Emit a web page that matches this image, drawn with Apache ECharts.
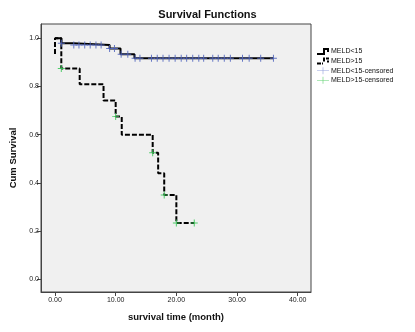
<!DOCTYPE html>
<html>
<head>
<meta charset="utf-8">
<script src="https://cdn.jsdelivr.net/npm/echarts@6/dist/echarts.min.js"></script>
<style>html,body{margin:0;padding:0;background:#fff;}#c{width:415px;height:332px;}</style>
</head>
<body>
<div id="c"></div>
<script>
// MELD<15 (solid) step curve: event times and survival after each time
const lowTimes = [0, 1.04, 3.0, 9.0, 10.8, 13.1, 36.0];
const lowSurv  = [1.0, 0.979, 0.972, 0.958, 0.934, 0.917, 0.917];
// MELD>15 (dashed) step curve
const highTimes = [0, 0, 1.04, 4.07, 8.0, 10.0, 11.0, 16.1, 17.0, 18.0, 20.0, 22.95];
const highSurv  = [0.935, 1.0, 0.875, 0.809, 0.742, 0.675, 0.600, 0.525, 0.440, 0.350, 0.234, 0.234];
// censored marks
const lowCensT = [1.04, 3.1, 3.95, 4.9, 5.8, 6.75, 7.6, 9.0, 9.8, 10.9, 12.0, 13.2, 14.0, 15.9, 16.85, 17.8, 18.8, 19.8, 20.8, 21.7, 22.7, 23.7, 24.5, 26.0, 26.9, 27.9, 28.9, 30.9, 32.0, 33.9, 36.0];
const lowCensS = [0.979, 0.972, 0.972, 0.972, 0.972, 0.972, 0.972, 0.958, 0.958, 0.934, 0.934, 0.917, 0.917, 0.917, 0.917, 0.917, 0.917, 0.917, 0.917, 0.917, 0.917, 0.917, 0.917, 0.917, 0.917, 0.917, 0.917, 0.917, 0.917, 0.917, 0.917];
const highCensT = [1.04, 10.0, 16.1, 18.0, 20.0, 22.95];
const highCensS = [0.875, 0.675, 0.525, 0.350, 0.234, 0.234];
// tick labels
const xTicks = [0, 10, 20, 30, 40];
const yTicks = [0, 0.2, 0.4, 0.6, 0.8, 1.0];
const seriesNames = ['MELD<15', 'MELD>15', 'MELD<15-censored', 'MELD>15-censored'];

function stepPoints(t, s) {
  const pts = [[t[0], s[0]]];
  for (let i = 1; i < t.length; i++) {
    pts.push([t[i], s[i - 1]]);
    pts.push([t[i], s[i]]);
  }
  return pts;
}
function zip(a, b) { return a.map((v, i) => [v, b[i]]); }

const plus = 'path://M4.3,0H5.7V10H4.3Z M0,4.3H10V5.7H0Z';
const blue = '#5468c0';
const green = '#3cc85a';

const chart = echarts.init(document.getElementById('c'), null, {renderer: 'canvas'});
chart.setOption({
  animation: false,
  backgroundColor: '#ffffff',
  textStyle: {fontFamily: 'Liberation Sans, Arial, sans-serif'},
  title: {
    text: 'Survival Functions', left: 'center', top: 4,
    textStyle: {fontSize: 11, fontWeight: 'bold', color: '#111', fontFamily: 'Liberation Sans, Arial, sans-serif'}
  },
  legend: {
    orient: 'vertical', left: 312, top: 43, itemWidth: 12, itemHeight: 7, itemGap: 2.6,
    textStyle: {fontSize: 7, color: '#111', padding: [0, 0, 0, -3]},
    data: [
      {name: seriesNames[0], icon: 'path://M0,5H6V0H12V4H10V2H8V7H0Z'},
      {name: seriesNames[1], icon: 'path://M0,5H4V7H0Z M5,5H6V7H5Z M6,0H8V4H6Z M9,0H12V2H9Z M10,3H12V5H10Z'},
      {name: seriesNames[2], icon: 'path://M0,3.2H12V3.8H0Z M5.7,0H6.3V7H5.7Z', itemStyle: {color: '#8796d8'}},
      {name: seriesNames[3], icon: 'path://M0,3.2H12V3.8H0Z M5.7,0H6.3V7H5.7Z', itemStyle: {color: '#4ccc60'}}
    ]
  },
  grid: {
    left: 41, top: 24, right: 104, bottom: 40, show: true,
    backgroundColor: '#f0f0f0', borderColor: '#444', borderWidth: 1
  },
  xAxis: {
    type: 'value', min: -2.306, max: 42.19,
    name: 'survival time (month)', nameLocation: 'middle', nameGap: 20,
    nameTextStyle: {fontSize: 9.5, fontWeight: 'bold', color: '#111'},
    axisLine: {show: true, onZero: false, lineStyle: {color: '#444', width: 1}},
    axisTick: {show: true, length: 4, customValues: xTicks, lineStyle: {color: '#444'}},
    axisLabel: {customValues: xTicks, fontSize: 7, color: '#222', margin: 5, formatter: v => v.toFixed(2)},
    splitLine: {show: false}
  },
  yAxis: {
    type: 'value', min: -0.0527, max: 1.0593,
    name: 'Cum Survival', nameLocation: 'middle', nameGap: 21, nameRotate: 90,
    nameTextStyle: {fontSize: 9.5, fontWeight: 'bold', color: '#111'},
    axisLine: {show: true, onZero: false, lineStyle: {color: '#444', width: 1}},
    axisTick: {show: true, length: 4, customValues: yTicks, lineStyle: {color: '#444'}},
    axisLabel: {customValues: yTicks, fontSize: 7, color: '#222', margin: 2, formatter: v => v.toFixed(1)},
    splitLine: {show: false}
  },
  series: [
    {
      name: seriesNames[1], type: 'line', data: stepPoints(highTimes, highSurv),
      showSymbol: false, symbol: 'none', color: '#000', z: 2,
      lineStyle: {color: '#000', width: 2, type: [5, 2], cap: 'butt'}
    },
    {
      name: seriesNames[0], type: 'line', data: stepPoints(lowTimes, lowSurv),
      showSymbol: false, symbol: 'none', color: '#000', z: 3,
      lineStyle: {color: '#000', width: 2}
    },
    {
      name: seriesNames[2], type: 'scatter', data: zip(lowCensT, lowCensS),
      symbol: plus, symbolSize: 7, z: 5, itemStyle: {color: blue, opacity: 0.9}
    },
    {
      name: seriesNames[3], type: 'scatter', data: zip(highCensT, highCensS),
      symbol: plus, symbolSize: 7, z: 5, itemStyle: {color: green, opacity: 0.9}
    }
  ]
});
</script>
</body>
</html>
